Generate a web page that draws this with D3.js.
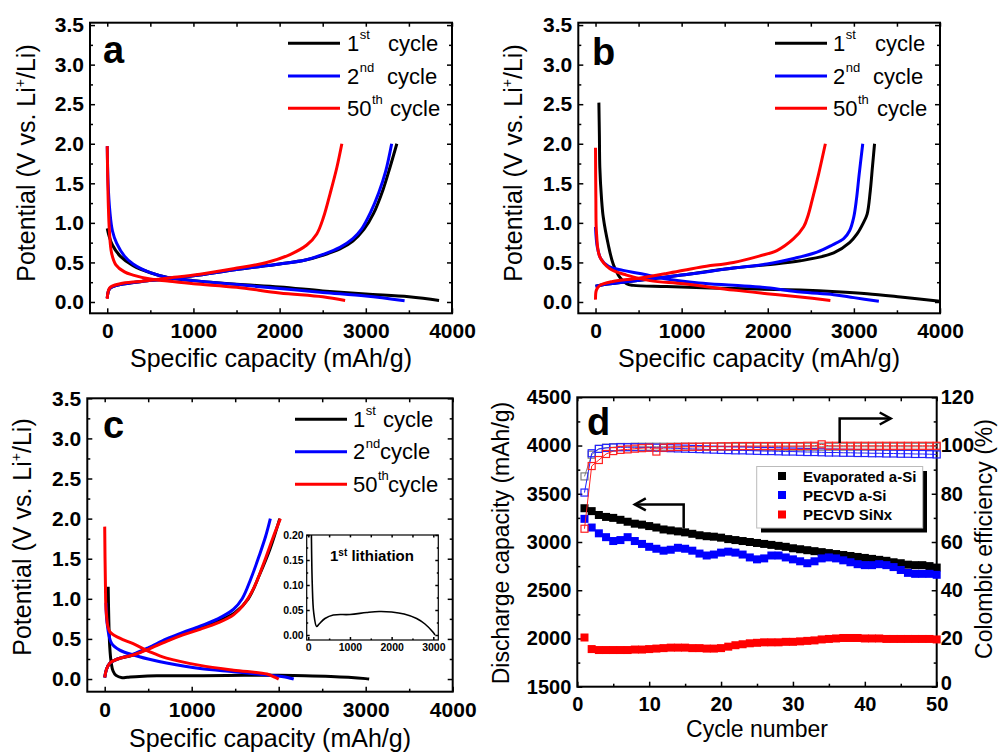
<!DOCTYPE html>
<html><head><meta charset="utf-8">
<script src="https://cdn.jsdelivr.net/npm/d3@7"></script>
<style>body{margin:0;background:#fff}svg{display:block}text{font-family:"Liberation Sans",Arial,sans-serif}</style>
</head><body><svg id="c" width="998" height="753"></svg>
<script>
// ---------- DATA ----------
// Panel a: [specific capacity (mAh/g), potential (V)]
const aDis1=[[0,0.93],[20,0.84],[60,0.72],[150,0.58],[300,0.46],[500,0.37],[700,0.31],[1000,0.27],[1500,0.225],[2000,0.19],[2500,0.14],[3000,0.1],[3500,0.065],[3850,0.02]];
const aChg1=[[0,0.05],[30,0.17],[150,0.22],[400,0.26],[700,0.29],[1000,0.33],[1500,0.41],[2000,0.48],[2300,0.53],[2500,0.59],[2700,0.67],[2850,0.77],[2980,0.92],[3090,1.12],[3200,1.42],[3280,1.7],[3360,2.0]];
const aDis2=[[0,1.97],[10,1.5],[30,1.15],[60,0.9],[110,0.74],[200,0.58],[300,0.48],[500,0.37],[700,0.31],[1000,0.27],[1500,0.22],[2000,0.17],[2500,0.12],[3000,0.075],[3450,0.015]];
const aChg2=[[0,0.05],[30,0.17],[150,0.22],[400,0.26],[700,0.29],[1000,0.33],[1500,0.41],[2000,0.48],[2300,0.53],[2500,0.6],[2700,0.69],[2850,0.8],[2950,0.92],[3050,1.12],[3150,1.38],[3230,1.65],[3300,2.0]];
const aDis50=[[0,1.97],[5,1.6],[12,1.25],[25,0.9],[50,0.62],[100,0.47],[200,0.38],[300,0.34],[500,0.29],[700,0.265],[1000,0.23],[1500,0.185],[2000,0.115],[2500,0.065],[2760,0.02]];
const aChg50=[[0,0.04],[30,0.18],[150,0.23],[380,0.26],[690,0.3],[1076,0.35],[1463,0.42],[1850,0.5],[2121,0.6],[2315,0.72],[2431,0.86],[2509,1.07],[2586,1.37],[2664,1.7],[2722,2.0]];
// Panel b
const bDis1=[[39,2.52],[45,2.1],[50,1.7],[70,1.3],[90,1.07],[147,0.73],[205,0.48],[283,0.31],[360,0.23],[438,0.21],[826,0.195],[1602,0.17],[2378,0.15],[2800,0.13],[3154,0.105],[3541,0.063],[4000,0.008]];
const bChg1=[[0,0.2],[100,0.22],[244,0.24],[632,0.29],[1000,0.34],[1602,0.43],[1990,0.47],[2378,0.52],[2766,0.62],[2950,0.75],[3037,0.86],[3110,1.0],[3154,1.11],[3190,1.4],[3215,1.7],[3240,2.0]];
const bDis2=[[0,0.95],[20,0.7],[60,0.55],[150,0.45],[320,0.4],[515,0.36],[826,0.29],[1200,0.24],[1602,0.21],[1990,0.18],[2378,0.126],[2766,0.092],[3000,0.055],[3290,0.01]];
const bChg2=[[0,0.2],[100,0.22],[244,0.24],[632,0.29],[1000,0.34],[1214,0.37],[1602,0.43],[1990,0.48],[2300,0.55],[2572,0.63],[2750,0.72],[2882,0.8],[2950,0.9],[2998,1.07],[3030,1.3],[3060,1.6],[3103,2.0]];
const bDis50=[[0,1.95],[4,1.3],[12,0.86],[50,0.57],[167,0.42],[360,0.34],[632,0.27],[1020,0.23],[1602,0.15],[1990,0.105],[2378,0.063],[2727,0.02]];
const bChg50=[[0,0.03],[10,0.15],[50,0.21],[200,0.26],[500,0.3],[826,0.36],[1214,0.44],[1602,0.5],[1900,0.58],[2106,0.65],[2300,0.8],[2417,0.95],[2470,1.1],[2514,1.28],[2591,1.62],[2669,2.0]];
// Panel c (cDis1 is also the inset "1st lithiation")
const cDis1=[[40,1.15],[48,0.7],[58,0.4],[75,0.2],[96,0.1],[130,0.045],[200,0.017],[260,0.022],[400,0.033],[600,0.04],[1000,0.041],[1400,0.045],[1700,0.047],[2000,0.046],[2300,0.042],[2600,0.033],[2800,0.022],[3000,0.005],[3040,0.0]];
const cChg1=[[0,0.02],[20,0.12],[60,0.2],[150,0.25],[327,0.3],[500,0.38],[711,0.48],[900,0.56],[1096,0.64],[1300,0.72],[1500,0.83],[1650,1.0],[1780,1.3],[1900,1.62],[2012,2.0]];
const cDis2=[[15,0.95],[27,0.7],[77,0.45],[173,0.36],[327,0.3],[500,0.25],[711,0.2],[1096,0.13],[1481,0.09],[1865,0.05],[2100,0.02],[2173,0.0]];
const cChg2=[[0,0.02],[20,0.12],[60,0.2],[150,0.25],[327,0.31],[500,0.39],[711,0.5],[900,0.58],[1096,0.66],[1300,0.75],[1481,0.87],[1580,1.0],[1680,1.25],[1780,1.55],[1850,1.78],[1904,2.0]];
const cDis50=[[0,1.9],[8,1.2],[19,0.82],[58,0.59],[173,0.51],[327,0.44],[519,0.34],[711,0.26],[1096,0.17],[1481,0.11],[1865,0.062],[1960,0.02],[2000,0.0]];
const cChg50=[[0,0.02],[20,0.12],[60,0.2],[150,0.25],[327,0.3],[500,0.37],[711,0.47],[900,0.55],[1096,0.62],[1300,0.7],[1481,0.8],[1600,0.93],[1720,1.15],[1830,1.45],[1930,1.75],[2019,2.0]];
// Panel d
const cycles=[1,2,3,4,5,6,7,8,9,10,11,12,13,14,15,16,17,18,19,20,21,22,23,24,25,26,27,28,29,30,31,32,33,34,35,36,37,38,39,40,41,42,43,44,45,46,47,48,49,50];
const capEvap=[3350,3320,3280,3260,3250,3230,3210,3190,3180,3165,3150,3130,3120,3110,3100,3085,3070,3060,3055,3045,3030,3020,3010,3000,2990,2980,2970,2960,2950,2935,2925,2915,2905,2895,2885,2875,2865,2855,2845,2835,2825,2815,2805,2790,2780,2765,2760,2760,2750,2735];
const capPecvd=[3240,3150,3090,3050,3010,3020,3050,3010,2980,2950,2930,2910,2920,2940,2930,2910,2880,2860,2870,2890,2900,2890,2870,2840,2820,2830,2860,2860,2840,2820,2800,2780,2800,2830,2840,2830,2810,2790,2770,2760,2760,2770,2760,2740,2710,2680,2670,2670,2670,2660];
const capSiNx=[2010,1890,1880,1880,1880,1880,1880,1885,1885,1890,1895,1900,1905,1905,1905,1900,1900,1895,1895,1900,1915,1930,1940,1950,1955,1960,1960,1960,1965,1965,1970,1975,1980,1990,1995,2000,2005,2005,2005,2000,2000,2000,1995,1995,1995,1995,1995,1995,1995,1990];
const ceEvap=[87.2,96.2,98.6,99.1,99.3,99.4,99.4,99.5,99.5,99.5,99.5,99.5,99.5,99.5,99.5,99.5,99.5,99.5,99.5,99.5,99.5,99.5,99.5,99.5,99.5,99.5,99.5,99.5,99.5,99.5,99.5,99.5,99.5,99.5,99.5,99.5,99.5,99.5,99.5,99.5,99.5,99.5,99.5,99.5,99.5,99.5,99.5,99.5,99.5,99.5];
const cePecvd=[80.5,96.8,98.6,99.0,99.2,99.3,99.3,99.3,99.2,99.2,99.1,99.0,98.9,98.8,98.7,98.6,98.5,98.4,98.3,98.2,98.1,98.0,98.0,97.9,97.8,97.7,97.7,97.6,97.5,97.5,97.4,97.3,97.3,97.2,97.1,97.1,97.0,97.0,96.9,96.9,96.8,96.8,96.7,96.7,96.6,96.6,96.5,96.5,96.4,96.3];
const ceSiNx=[65.5,91.5,94.0,96.5,97.7,98.2,98.4,98.7,98.9,99.1,97.5,99.1,99.3,99.4,99.5,99.5,99.5,99.6,99.6,99.7,99.7,99.8,99.8,99.8,99.8,99.8,99.8,99.8,99.8,99.8,99.8,99.9,99.9,100.5,99.9,99.9,99.9,99.9,99.9,99.9,99.9,99.9,99.9,99.9,99.9,99.9,99.9,99.9,99.9,99.9];
const legendCycles=[["1","st"],["2","nd"],["50","th"]];
const legendD=["Evaporated a-Si","PECVD a-Si","PECVD SiNx"];
const capTicks=[0,1000,2000,3000,4000];
const potTicks=[0,0.5,1,1.5,2,2.5,3,3.5];
// arrows (data coords, panel d)
const arrowLeft=[[14.8,3140],[14.8,3390],[8.0,3390]];   // left axis
const arrowRight=[[36.5,101],[36.5,111.2],[43.6,111.2]]; // right axis

// ---------- DRAW ----------
const svg=d3.select("#c");
const BLACK="#000",BLUE="#0000ff",RED="#ff0000";

function styleAxis(sel,fs){
  sel.select(".domain").remove();
  sel.selectAll(".tick line").attr("stroke","#000").attr("stroke-width",1.5);
  sel.selectAll("text").attr("font-size",fs).attr("font-weight","bold").attr("fill","#000");
}
function axes(g,x,y,box,o){
  const M=o.major||5,m=o.minor||3,fs=o.fs||20;
  const b=g.append("g").attr("transform",`translate(0,${box.b})`)
    .call(d3.axisBottom(x).tickValues(o.xMaj).tickFormat(o.xFmt).tickSize(-M).tickPadding(o.padX));
  styleAxis(b,fs);
  const bm=g.append("g").attr("transform",`translate(0,${box.b})`).call(d3.axisBottom(x).tickValues(o.xMin).tickFormat("").tickSize(-m));
  styleAxis(bm,fs);
  const t=g.append("g").attr("transform",`translate(0,${box.t})`).call(d3.axisTop(x).tickValues(o.xMaj.concat(o.xMin)).tickFormat("").tickSize(-M*0.8));
  styleAxis(t,fs);
  const l=g.append("g").attr("transform",`translate(${box.l},0)`)
    .call(d3.axisLeft(y).tickValues(o.yMaj).tickFormat(o.yFmt).tickSize(-M).tickPadding(o.padY));
  styleAxis(l,fs);
  const lm=g.append("g").attr("transform",`translate(${box.l},0)`).call(d3.axisLeft(y).tickValues(o.yMin).tickFormat("").tickSize(-m));
  styleAxis(lm,fs);
  const y2=o.y2||y;
  const r=g.append("g").attr("transform",`translate(${box.r},0)`)
    .call(d3.axisRight(y2).tickValues(o.y2Maj||o.yMaj).tickFormat(o.y2Fmt||"").tickSize(-M).tickPadding(o.padY2||4));
  styleAxis(r,fs);
  if(o.y2Fmt) r.selectAll(".tick").filter(d=>d===0).select("text").attr("dy","0.12em");
  const rm=g.append("g").attr("transform",`translate(${box.r},0)`).call(d3.axisRight(y2).tickValues(o.y2Min||o.yMin).tickFormat("").tickSize(-m));
  styleAxis(rm,fs);
  g.append("rect").attr("x",box.l).attr("y",box.t).attr("width",box.r-box.l).attr("height",box.b-box.t)
    .attr("fill","none").attr("stroke","#000").attr("stroke-width",o.frame||2);
}
function title(g,txt,x,y,fs,rot){
  const t=g.append("text").text(txt).attr("font-size",fs).attr("text-anchor","middle").attr("fill","#000");
  if(rot) t.attr("transform",`translate(${x},${y}) rotate(-90)`); else t.attr("x",x).attr("y",y);
  return t;
}
function potTitle(g,x,y){
  const t=g.append("text").attr("font-size",25).attr("text-anchor","middle").attr("fill","#000")
    .attr("transform",`translate(${x},${y}) rotate(-90)`);
  t.append("tspan").text("Potential (V vs. Li");
  t.append("tspan").text("+").attr("font-size",14).attr("dy",-10);
  t.append("tspan").text("/Li)").attr("dy",10);
}

function curvePanel(cfg){
  const g=svg.append("g");
  const box=cfg.box;
  const x=d3.scaleLinear().domain([-200,4000]).range([box.l,box.r]);
  const y=d3.scaleLinear().domain(cfg.yDom).range([box.b,box.t]);
  axes(g,x,y,box,{xMaj:capTicks,xMin:[500,1500,2500,3500],xFmt:d3.format("d"),padX:10,
    yMaj:potTicks,yMin:[0.25,0.75,1.25,1.75,2.25,2.75,3.25],yFmt:d3.format(".1f"),padY:6,fs:21});
  const line=d3.line().x(d=>x(d[0])).y(d=>y(d[1])).curve(d3.curveCatmullRom.alpha(0.5));
  const clipId="clip"+cfg.letter;
  g.append("clipPath").attr("id",clipId).append("rect").attr("x",box.l).attr("y",box.t).attr("width",box.r-box.l).attr("height",box.b-box.t);
  const cg=g.append("g").attr("clip-path",`url(#${clipId})`);
  cfg.series.forEach(s=>cg.append("path").attr("d",line(s.data)).attr("fill","none").attr("stroke",s.color).attr("stroke-width",3).attr("stroke-linejoin","round"));
  // legend
  const colors=[BLACK,BLUE,RED];
  legendCycles.forEach((lc,i)=>{
    const ly=cfg.legY[i];
    g.append("line").attr("x1",cfg.legX[0]).attr("x2",cfg.legX[1]).attr("y1",ly).attr("y2",ly).attr("stroke",colors[i]).attr("stroke-width",3);
    const n=g.append("text").attr("x",cfg.legNumX).attr("y",ly+7.5).attr("font-size",22).text(lc[0]);
    const w=n.node().getComputedTextLength();
    g.append("text").attr("x",cfg.legNumX+w+0.5).attr("y",ly-4).attr("font-size",13).text(lc[1]);
    g.append("text").attr("x",cfg.legCycX[i]).attr("y",ly+7.5).attr("font-size",22).text("cycle");
  });
  g.append("text").attr("x",cfg.letX).attr("y",cfg.letY).attr("font-size",38).attr("font-weight","bold").text(cfg.letter);
  title(g,"Specific capacity (mAh/g)",cfg.xtX,cfg.xtY,25,false);
  potTitle(g,cfg.ytX,cfg.ytY);
  return {g,x,y};
}

curvePanel({letter:"a",box:{l:90,r:452,t:22.7,b:313.3},yDom:[-0.143,3.53],
  series:[{data:aDis1,color:BLACK},{data:aChg1,color:BLACK},{data:aDis2,color:BLUE},{data:aChg2,color:BLUE},{data:aDis50,color:RED},{data:aChg50,color:RED}],
  legX:[288,340],legY:[43.3,76,108.3],legNumX:347,legCycX:[388,387,390],letX:103,letY:63,xtX:271,xtY:367,ytX:35,ytY:163});
curvePanel({letter:"b",box:{l:578.3,r:940,t:22.7,b:313.3},yDom:[-0.143,3.53],
  series:[{data:bDis1,color:BLACK},{data:bChg1,color:BLACK},{data:bDis2,color:BLUE},{data:bChg2,color:BLUE},{data:bDis50,color:RED},{data:bChg50,color:RED}],
  legX:[775,827],legY:[43.3,76,108.3],legNumX:833,legCycX:[875,873,877],letX:592,letY:65,xtX:759,xtY:367,ytX:522,ytY:163});
const pc=curvePanel({letter:"c",box:{l:87.3,r:452.7,t:398.3,b:691.7},yDom:[-0.158,3.5],
  series:[{data:cDis1,color:BLACK},{data:cChg1,color:BLACK},{data:cDis2,color:BLUE},{data:cChg2,color:BLUE},{data:cDis50,color:RED},{data:cChg50,color:RED}],
  legX:[295,347],legY:[419.3,451.7,484.3],legNumX:353,legCycX:[383,380,388],letX:103,letY:438,xtX:270,xtY:747,ytX:31,ytY:537});

// inset in c
(function(){
  const box={l:306.7,r:438.3,t:535,b:640};
  const g=svg.append("g");
  g.append("rect").attr("x",box.l).attr("y",box.t).attr("width",box.r-box.l).attr("height",box.b-box.t).attr("fill","#fff");
  const x=d3.scaleLinear().domain([-38,3120]).range([box.l,box.r]);
  const y=d3.scaleLinear().domain([-0.01,0.2]).range([box.b,box.t]);
  axes(g,x,y,box,{xMaj:[0,1000,2000,3000],xMin:[500,1500,2500],xFmt:d3.format("d"),padX:4,
    yMaj:[0,0.05,0.1,0.15,0.2],yMin:[0.025,0.075,0.125,0.175],yFmt:d3.format(".2f"),padY:3,fs:10.5,major:3,minor:1.5,frame:1.2});
  g.append("clipPath").attr("id","clipIn").append("rect").attr("x",box.l).attr("y",box.t).attr("width",box.r-box.l).attr("height",box.b-box.t);
  const line=d3.line().x(d=>x(d[0])).y(d=>y(d[1])).curve(d3.curveCatmullRom.alpha(0.5));
  g.append("g").attr("clip-path","url(#clipIn)").append("path").attr("d",line(cDis1)).attr("fill","none").attr("stroke","#000").attr("stroke-width",1.6);
  const t=g.append("text").attr("x",330).attr("y",561).attr("font-size",15).attr("font-weight","bold");
  t.append("tspan").text("1");
  t.append("tspan").text("st").attr("font-size",10).attr("dy",-5);
  t.append("tspan").text(" lithiation").attr("dy",5);
})();

// panel d
(function(){
  const box={l:577.3,r:936.7,t:397.3,b:686.7};
  const g=svg.append("g");
  const x=d3.scaleLinear().domain([0,50]).range([box.l,box.r]);
  const y=d3.scaleLinear().domain([1500,4500]).range([box.b,box.t]);
  const y2=d3.scaleLinear().domain([0,120]).range([box.b,box.t]);
  axes(g,x,y,box,{xMaj:[0,10,20,30,40,50],xMin:[5,15,25,35,45],xFmt:d3.format("d"),padX:10,
    yMaj:[1500,2000,2500,3000,3500,4000,4500],yMin:[1750,2250,2750,3250,3750,4250],yFmt:d3.format("d"),padY:6,
    y2:y2,y2Maj:[0,20,40,60,80,100,120],y2Min:[10,30,50,70,90,110],y2Fmt:d3.format("d"),padY2:4,fs:20});
  const sq=8;
  [[capEvap,BLACK],[capPecvd,BLUE],[capSiNx,RED]].forEach(([arr,col])=>{
    g.append("g").selectAll("rect").data(arr).join("rect")
      .attr("x",(d,i)=>x(cycles[i])-sq/2).attr("y",d=>y(d)-sq/2).attr("width",sq).attr("height",sq).attr("fill",col);
  });
  const osq=7;
  [[ceEvap,"#808080"],[cePecvd,"#2222ff"],[ceSiNx,"#ff2020"]].forEach(([arr,col])=>{
    const ln=d3.line().x((d,i)=>x(cycles[i])).y(d=>y2(d));
    g.append("path").attr("d",ln(arr)).attr("fill","none").attr("stroke",col).attr("stroke-width",1);
    g.append("g").selectAll("rect").data(arr).join("rect")
      .attr("x",(d,i)=>x(cycles[i])-osq/2).attr("y",d=>y2(d)-osq/2).attr("width",osq).attr("height",osq)
      .attr("fill","none").attr("stroke",col).attr("stroke-width",1.2);
  });
  // arrows
  const la=d3.line().x(d=>x(d[0])).y(d=>y(d[1]));
  g.append("path").attr("d",la(arrowLeft)).attr("fill","none").attr("stroke","#000").attr("stroke-width",2.5);
  const ra=d3.line().x(d=>x(d[0])).y(d=>y2(d[1]));
  g.append("path").attr("d",ra(arrowRight)).attr("fill","none").attr("stroke","#000").attr("stroke-width",2.5);
  const hl=[x(arrowLeft[2][0]),y(arrowLeft[2][1])];
  g.append("path").attr("d",`M${hl[0]+11},${hl[1]-6}L${hl[0]},${hl[1]}L${hl[0]+11},${hl[1]+6}`).attr("fill","none").attr("stroke","#000").attr("stroke-width",2.5);
  const hr=[x(arrowRight[2][0]),y2(arrowRight[2][1])];
  g.append("path").attr("d",`M${hr[0]-11},${hr[1]-6}L${hr[0]},${hr[1]}L${hr[0]-11},${hr[1]+6}`).attr("fill","none").attr("stroke","#000").attr("stroke-width",2.5);
  // legend
  const lg=g.append("g");
  lg.append("rect").attr("x",761).attr("y",471).attr("width",166).attr("height",61.5).attr("fill","#000");
  lg.append("rect").attr("x",756.7).attr("y",466.5).attr("width",166).attr("height",61.5).attr("fill","#fff").attr("stroke","#bbb").attr("stroke-width",1);
  const lys=[476,495,514.5],lc=[BLACK,BLUE,RED];
  legendD.forEach((s,i)=>{
    lg.append("rect").attr("x",782-4).attr("y",lys[i]-4).attr("width",8).attr("height",8).attr("fill",lc[i]);
    lg.append("text").attr("x",803).attr("y",lys[i]+5.5).attr("font-size",15).attr("font-weight","bold").text(s);
  });
  g.append("text").attr("x",587).attr("y",435).attr("font-size",38).attr("font-weight","bold").text("d");
  title(g,"Cycle number",757,737,23,false);
  title(g,"Discharge capacity (mAh/g)",509,543,23,true);
  title(g,"Colombic efficiency (%)",992,539,23,true);
})();
</script></body></html>
